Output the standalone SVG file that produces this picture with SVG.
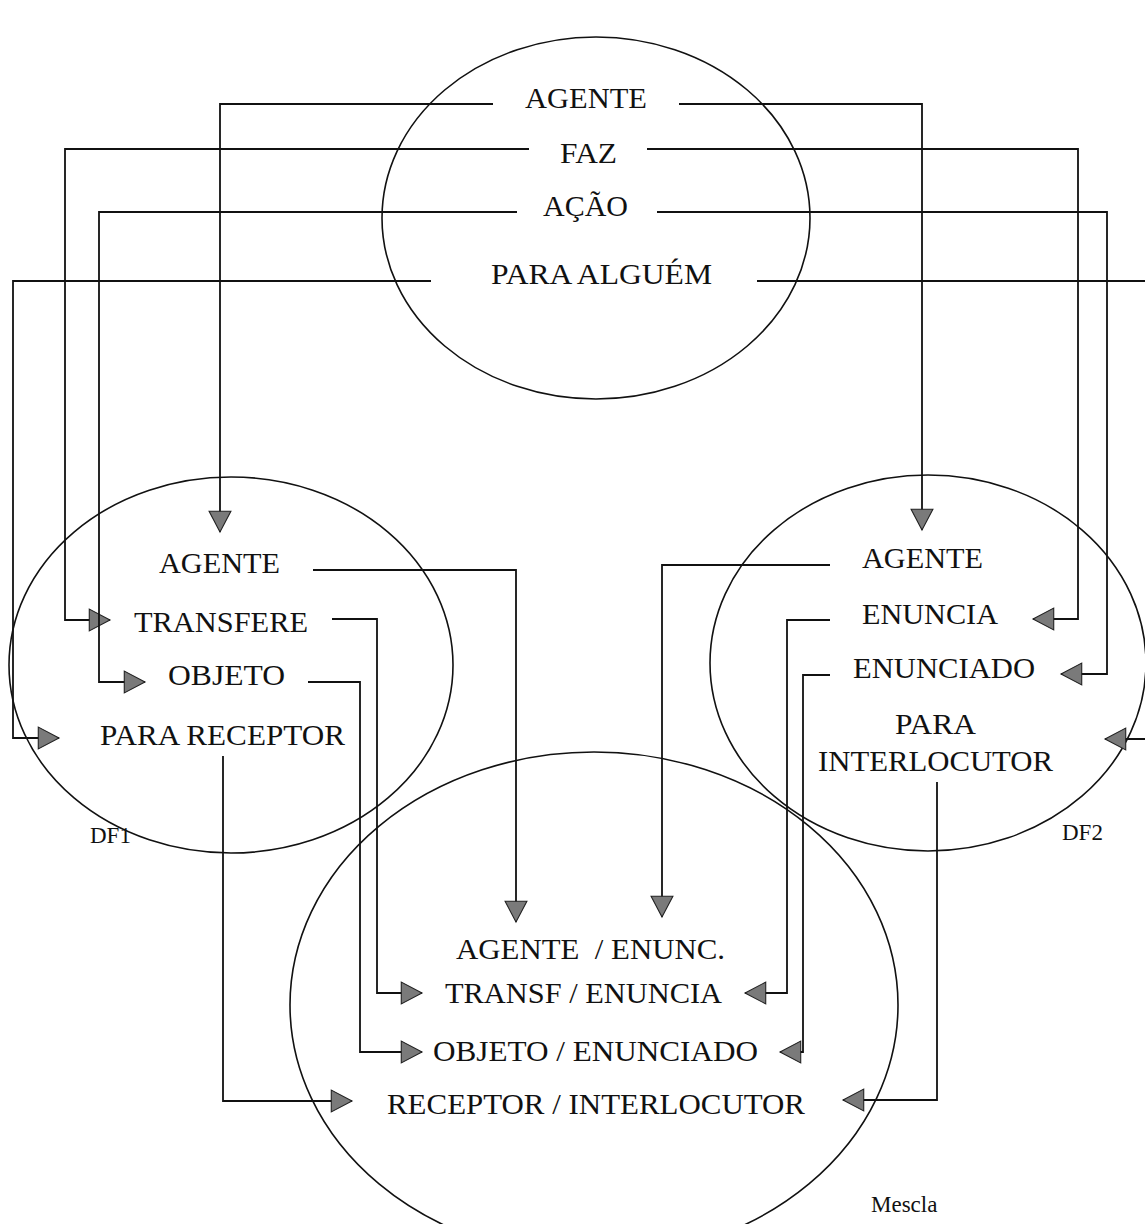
<svg xmlns="http://www.w3.org/2000/svg" width="1145" height="1224" viewBox="0 0 1145 1224">
  <style>
    .frame { fill: none; stroke: #111; stroke-width: 1.6; }
    .link { fill: none; stroke: #111; stroke-width: 1.8; }
    .t { font-family: "Liberation Serif", "Times New Roman", serif; font-size: 30px; fill: #111; }
    .lbl { font-family: "Liberation Serif", "Times New Roman", serif; font-size: 23px; fill: #111; }
  </style>
  <defs>
    <marker id="tri" markerUnits="userSpaceOnUse" markerWidth="24" markerHeight="24" viewBox="-20 -11 22 22" refX="0" refY="0" orient="auto">
      <path d="M0,0 L-19,-10 L-19,10 Z" fill="#7a7a7a" stroke="#222" stroke-width="1"/>
    </marker>
  </defs>
  <rect width="1145" height="1224" fill="#fff"/>

  <!-- source frame: action -->
  <g id="frame-acao">
    <ellipse class="frame" cx="596" cy="218" rx="214" ry="181"/>
    <text class="t" x="525" y="108" textLength="122" lengthAdjust="spacingAndGlyphs">AGENTE</text>
    <text class="t" x="560" y="163" textLength="57" lengthAdjust="spacingAndGlyphs">FAZ</text>
    <text class="t" x="543" y="216" textLength="85" lengthAdjust="spacingAndGlyphs">AÇÃO</text>
    <text class="t" x="491" y="284" textLength="221" lengthAdjust="spacingAndGlyphs">PARA ALGUÉM</text>
  </g>

  <!-- input space DF1 -->
  <g id="frame-df1">
    <ellipse class="frame" cx="231" cy="665" rx="222" ry="188"/>
    <text class="t" x="159" y="573" textLength="121" lengthAdjust="spacingAndGlyphs">AGENTE</text>
    <text class="t" x="134" y="632" textLength="174" lengthAdjust="spacingAndGlyphs">TRANSFERE</text>
    <text class="t" x="168" y="685" textLength="117" lengthAdjust="spacingAndGlyphs">OBJETO</text>
    <text class="t" x="100" y="745" textLength="245" lengthAdjust="spacingAndGlyphs">PARA RECEPTOR</text>
    <text class="lbl" x="90" y="843">DF1</text>
  </g>

  <!-- input space DF2 -->
  <g id="frame-df2">
    <ellipse class="frame" cx="928" cy="663" rx="218" ry="188"/>
    <text class="t" x="862" y="568" textLength="121" lengthAdjust="spacingAndGlyphs">AGENTE</text>
    <text class="t" x="862" y="624" textLength="136" lengthAdjust="spacingAndGlyphs">ENUNCIA</text>
    <text class="t" x="853" y="678" textLength="182" lengthAdjust="spacingAndGlyphs">ENUNCIADO</text>
    <text class="t" x="895" y="734" textLength="81" lengthAdjust="spacingAndGlyphs">PARA</text>
    <text class="t" x="818" y="771" textLength="235" lengthAdjust="spacingAndGlyphs">INTERLOCUTOR</text>
    <text class="lbl" x="1062" y="840">DF2</text>
  </g>

  <!-- blended space -->
  <g id="frame-mescla">
    <ellipse class="frame" cx="594" cy="1005" rx="304" ry="253"/>
    <text class="t" x="456" y="959" textLength="269" lengthAdjust="spacingAndGlyphs" xml:space="preserve">AGENTE  / ENUNC.</text>
    <text class="t" x="445" y="1003" textLength="277" lengthAdjust="spacingAndGlyphs">TRANSF / ENUNCIA</text>
    <text class="t" x="433" y="1061" textLength="325" lengthAdjust="spacingAndGlyphs">OBJETO / ENUNCIADO</text>
    <text class="t" x="387" y="1114" textLength="418" lengthAdjust="spacingAndGlyphs">RECEPTOR / INTERLOCUTOR</text>
    <text class="lbl" x="871" y="1212">Mescla</text>
  </g>

  <!-- projections between spaces -->
  <g id="connectors">
    <path class="link" marker-end="url(#tri)" d="M493,104 H220 V532"/>
    <path class="link" marker-end="url(#tri)" d="M679,104 H922 V530"/>
    <path class="link" marker-end="url(#tri)" d="M529,149 H65 V620 H110"/>
    <path class="link" marker-end="url(#tri)" d="M647,149 H1078 V619 H1033"/>
    <path class="link" marker-end="url(#tri)" d="M517,212 H99 V682 H145"/>
    <path class="link" marker-end="url(#tri)" d="M657,212 H1107 V674 H1061"/>
    <path class="link" marker-end="url(#tri)" d="M431,281 H13 V738 H59"/>
    <path class="link" marker-end="url(#tri)" d="M757,281 H1152 V739 H1105"/>
    <path class="link" marker-end="url(#tri)" d="M313,570 H516 V922"/>
    <path class="link" marker-end="url(#tri)" d="M332,619 H377 V993 H422"/>
    <path class="link" marker-end="url(#tri)" d="M308,682 H360 V1052 H422"/>
    <path class="link" marker-end="url(#tri)" d="M223,756 V1101 H352"/>
    <path class="link" marker-end="url(#tri)" d="M830,565 H662 V917"/>
    <path class="link" marker-end="url(#tri)" d="M830,620 H787 V993 H745"/>
    <path class="link" marker-end="url(#tri)" d="M830,675 H803 V1052 H780"/>
    <path class="link" marker-end="url(#tri)" d="M937,782 V1100 H843"/>
  </g>
</svg>
